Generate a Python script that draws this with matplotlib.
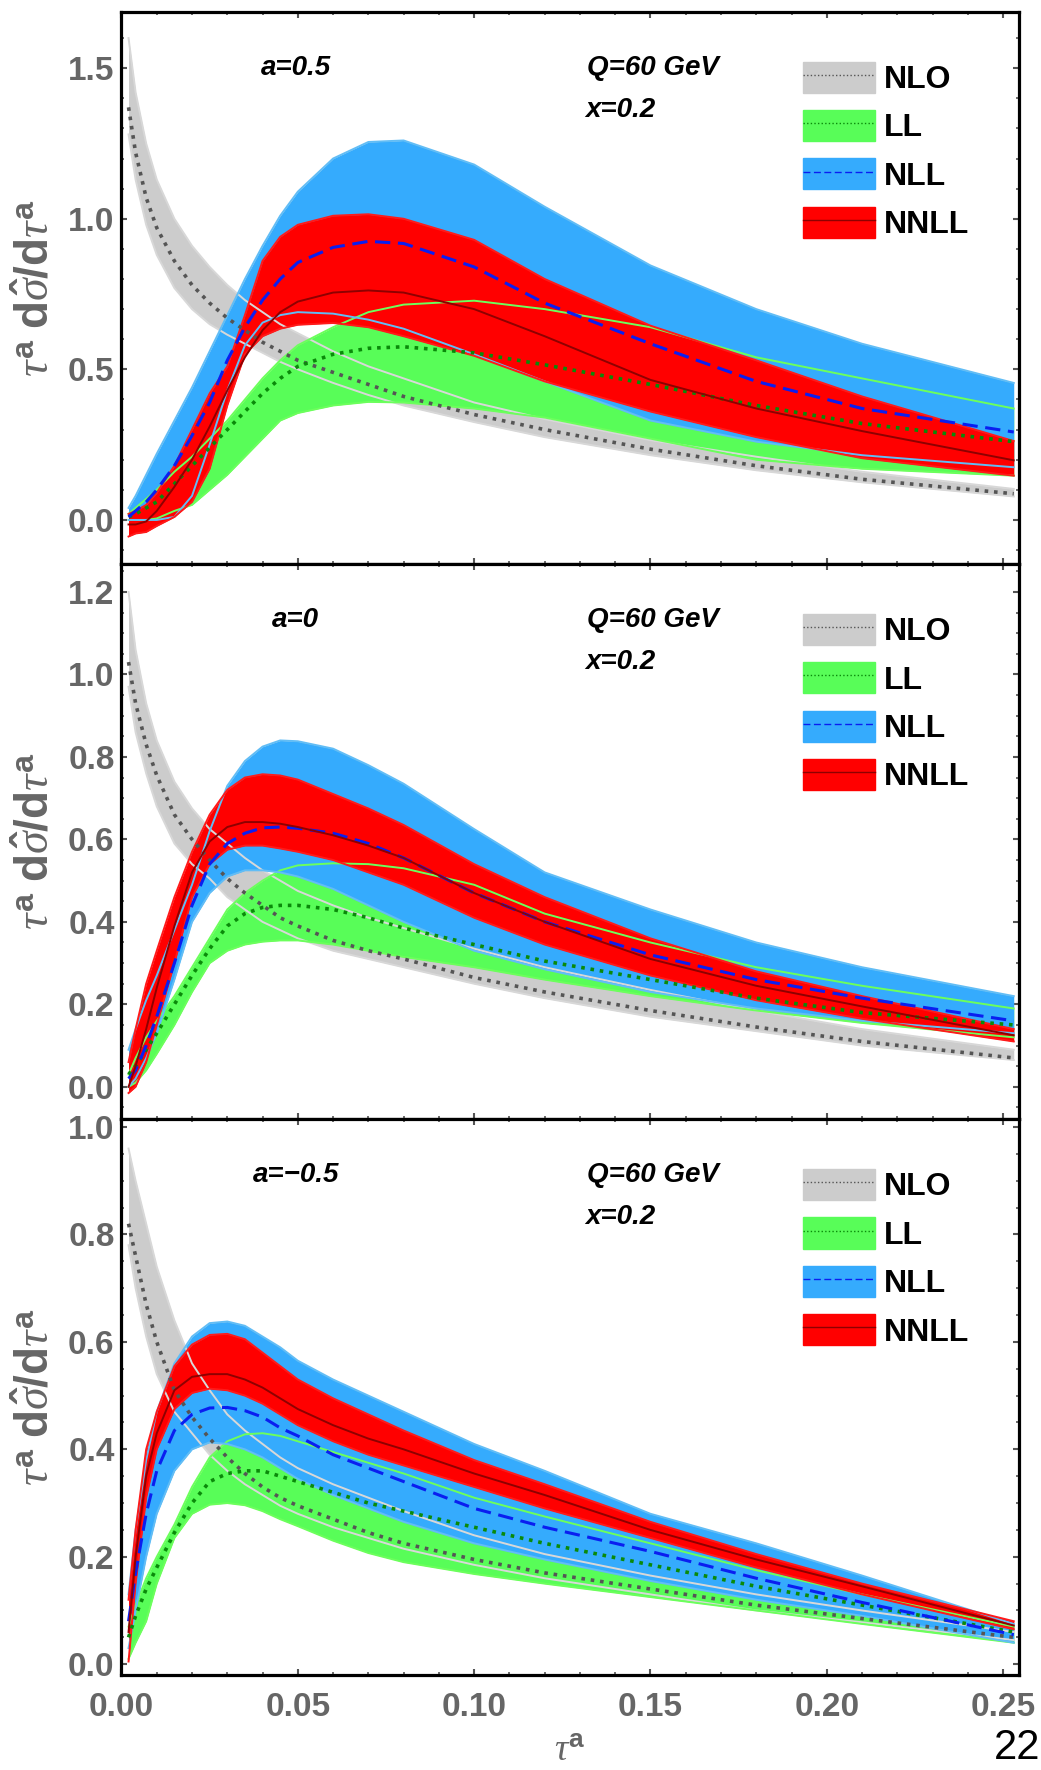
import matplotlib
matplotlib.use("Agg")
import matplotlib.pyplot as plt
from matplotlib.patches import Patch
from matplotlib.lines import Line2D
from matplotlib.ticker import MultipleLocator, FormatStrFormatter

plt.rcParams['font.family'] = ['Liberation Sans', 'DejaVu Sans']
plt.rcParams['mathtext.fontset'] = 'custom'
plt.rcParams['mathtext.rm'] = 'Liberation Sans:bold'
plt.rcParams['mathtext.bf'] = 'Liberation Sans:bold'
plt.rcParams['mathtext.it'] = 'Liberation Serif:italic'

# common tau^a grid
tau = [0.002, 0.004, 0.007, 0.01, 0.015, 0.02, 0.025, 0.03, 0.035, 0.04, 0.045,
       0.05, 0.06, 0.07, 0.08, 0.10, 0.12, 0.15, 0.18, 0.21, 0.253]

# ---- a = 0.5 ----
nlo_c_a05 = [1.37, 1.22, 1.07, 0.97, 0.86, 0.78, 0.72, 0.67, 0.63, 0.59, 0.56, 0.53, 0.49, 0.45, 0.41, 0.35, 0.30, 0.235, 0.18, 0.135, 0.087]
nlo_hi_a05 = [1.60, 1.42, 1.25, 1.13, 1.00, 0.91, 0.84, 0.78, 0.73, 0.69, 0.65, 0.62, 0.56, 0.51, 0.47, 0.39, 0.335, 0.265, 0.21, 0.16, 0.103]
nlo_lo_a05 = [1.28, 1.13, 0.98, 0.88, 0.77, 0.70, 0.65, 0.615, 0.585, 0.555, 0.525, 0.50, 0.455, 0.415, 0.38, 0.325, 0.275, 0.215, 0.165, 0.125, 0.078]
ll_c_a05 = [0.01, 0.02, 0.04, 0.06, 0.12, 0.18, 0.24, 0.30, 0.36, 0.42, 0.47, 0.51, 0.55, 0.57, 0.575, 0.555, 0.515, 0.45, 0.38, 0.32, 0.26]
ll_hi_a05 = [0.02, 0.04, 0.07, 0.10, 0.16, 0.21, 0.27, 0.33, 0.40, 0.47, 0.53, 0.58, 0.64, 0.69, 0.715, 0.728, 0.70, 0.64, 0.54, 0.47, 0.37]
ll_lo_a05 = [0.0, 0.0, 0.0, 0.005, 0.03, 0.05, 0.10, 0.15, 0.21, 0.27, 0.33, 0.355, 0.38, 0.392, 0.39, 0.37, 0.34, 0.27, 0.20, 0.17, 0.147]
nll_c_a05 = [0.01, 0.03, 0.06, 0.10, 0.18, 0.28, 0.39, 0.53, 0.64, 0.73, 0.80, 0.855, 0.905, 0.925, 0.918, 0.84, 0.72, 0.585, 0.46, 0.37, 0.292]
nll_hi_a05 = [0.04, 0.08, 0.15, 0.22, 0.33, 0.44, 0.56, 0.68, 0.80, 0.91, 1.01, 1.09, 1.20, 1.255, 1.26, 1.18, 1.04, 0.845, 0.70, 0.585, 0.455]
nll_lo_a05 = [0.0, 0.0, 0.0, 0.0, 0.01, 0.08, 0.25, 0.43, 0.58, 0.655, 0.68, 0.69, 0.685, 0.665, 0.635, 0.55, 0.46, 0.33, 0.26, 0.215, 0.175]
nnll_c_a05 = [-0.015, -0.015, -0.005, 0.03, 0.11, 0.20, 0.31, 0.43, 0.54, 0.63, 0.69, 0.725, 0.755, 0.762, 0.755, 0.70, 0.61, 0.465, 0.37, 0.295, 0.198]
nnll_hi_a05 = [0.02, 0.03, 0.05, 0.09, 0.18, 0.30, 0.42, 0.51, 0.68, 0.86, 0.94, 0.98, 1.01, 1.015, 1.00, 0.93, 0.80, 0.645, 0.53, 0.41, 0.262]
nnll_lo_a05 = [-0.055, -0.045, -0.04, -0.02, 0.01, 0.06, 0.17, 0.38, 0.55, 0.61, 0.635, 0.648, 0.654, 0.64, 0.61, 0.545, 0.46, 0.36, 0.275, 0.205, 0.147]

# ---- a = 0 ----
nlo_c_a0 = [1.03, 0.93, 0.83, 0.755, 0.66, 0.60, 0.55, 0.505, 0.47, 0.44, 0.41, 0.39, 0.355, 0.33, 0.31, 0.265, 0.23, 0.185, 0.145, 0.11, 0.07]
nlo_hi_a0 = [1.20, 1.06, 0.93, 0.84, 0.74, 0.675, 0.625, 0.59, 0.555, 0.525, 0.50, 0.475, 0.44, 0.41, 0.385, 0.335, 0.29, 0.235, 0.185, 0.14, 0.09]
nlo_lo_a0 = [0.97, 0.86, 0.76, 0.68, 0.59, 0.54, 0.505, 0.46, 0.43, 0.40, 0.38, 0.36, 0.33, 0.31, 0.29, 0.25, 0.215, 0.17, 0.135, 0.10, 0.065]
ll_c_a0 = [0.03, 0.05, 0.09, 0.13, 0.20, 0.27, 0.335, 0.39, 0.42, 0.435, 0.44, 0.44, 0.43, 0.41, 0.385, 0.345, 0.305, 0.26, 0.215, 0.18, 0.15]
ll_hi_a0 = [0.03, 0.07, 0.12, 0.16, 0.22, 0.29, 0.36, 0.43, 0.47, 0.50, 0.525, 0.537, 0.542, 0.54, 0.53, 0.49, 0.42, 0.35, 0.29, 0.245, 0.19]
ll_lo_a0 = [0.0, 0.01, 0.04, 0.08, 0.15, 0.23, 0.30, 0.33, 0.345, 0.352, 0.355, 0.355, 0.345, 0.33, 0.315, 0.29, 0.26, 0.22, 0.185, 0.155, 0.12]
nll_c_a0 = [0.02, 0.04, 0.10, 0.17, 0.30, 0.44, 0.54, 0.59, 0.615, 0.628, 0.63, 0.627, 0.615, 0.59, 0.555, 0.47, 0.40, 0.32, 0.26, 0.215, 0.16]
nll_hi_a0 = [0.09, 0.14, 0.21, 0.27, 0.38, 0.49, 0.62, 0.73, 0.79, 0.825, 0.84, 0.838, 0.82, 0.78, 0.735, 0.625, 0.52, 0.43, 0.35, 0.29, 0.22]
nll_lo_a0 = [0.0, 0.02, 0.07, 0.13, 0.26, 0.40, 0.47, 0.51, 0.525, 0.525, 0.52, 0.51, 0.48, 0.44, 0.40, 0.33, 0.285, 0.23, 0.19, 0.16, 0.13]
nnll_c_a0 = [0.0, 0.05, 0.14, 0.24, 0.39, 0.52, 0.595, 0.63, 0.642, 0.642, 0.638, 0.63, 0.61, 0.585, 0.555, 0.47, 0.40, 0.31, 0.245, 0.195, 0.125]
nnll_hi_a0 = [0.06, 0.14, 0.25, 0.33, 0.46, 0.57, 0.66, 0.72, 0.75, 0.758, 0.755, 0.745, 0.71, 0.675, 0.635, 0.54, 0.46, 0.36, 0.28, 0.22, 0.14]
nnll_lo_a0 = [-0.015, 0.0, 0.06, 0.15, 0.30, 0.46, 0.54, 0.575, 0.585, 0.585, 0.578, 0.57, 0.55, 0.52, 0.49, 0.41, 0.345, 0.27, 0.21, 0.165, 0.11]

# ---- a = -0.5 ----
nlo_c_am05 = [0.82, 0.76, 0.67, 0.60, 0.51, 0.46, 0.42, 0.385, 0.355, 0.33, 0.31, 0.295, 0.27, 0.245, 0.225, 0.195, 0.17, 0.14, 0.11, 0.085, 0.05]
nlo_hi_am05 = [0.96, 0.90, 0.82, 0.74, 0.64, 0.56, 0.51, 0.465, 0.435, 0.41, 0.385, 0.365, 0.335, 0.31, 0.285, 0.24, 0.205, 0.165, 0.13, 0.10, 0.06]
nlo_lo_am05 = [0.78, 0.70, 0.61, 0.54, 0.47, 0.43, 0.39, 0.36, 0.335, 0.315, 0.295, 0.28, 0.255, 0.235, 0.215, 0.185, 0.16, 0.13, 0.10, 0.078, 0.045]
ll_c_am05 = [0.05, 0.09, 0.14, 0.18, 0.245, 0.30, 0.34, 0.355, 0.36, 0.36, 0.35, 0.34, 0.32, 0.30, 0.285, 0.255, 0.225, 0.185, 0.145, 0.11, 0.06]
ll_hi_am05 = [0.07, 0.11, 0.16, 0.20, 0.26, 0.33, 0.385, 0.415, 0.428, 0.43, 0.425, 0.415, 0.395, 0.375, 0.355, 0.31, 0.275, 0.225, 0.175, 0.13, 0.07]
ll_lo_am05 = [0.01, 0.04, 0.08, 0.15, 0.235, 0.28, 0.297, 0.30, 0.296, 0.285, 0.27, 0.257, 0.23, 0.207, 0.19, 0.168, 0.15, 0.125, 0.10, 0.075, 0.04]
nll_c_am05 = [0.08, 0.17, 0.28, 0.36, 0.435, 0.465, 0.477, 0.478, 0.472, 0.46, 0.44, 0.425, 0.39, 0.365, 0.34, 0.29, 0.255, 0.21, 0.16, 0.115, 0.055]
nll_hi_am05 = [0.13, 0.25, 0.38, 0.47, 0.56, 0.61, 0.635, 0.638, 0.63, 0.61, 0.59, 0.565, 0.53, 0.50, 0.47, 0.41, 0.36, 0.28, 0.225, 0.165, 0.075]
nll_lo_am05 = [0.03, 0.10, 0.20, 0.28, 0.36, 0.40, 0.413, 0.41, 0.40, 0.385, 0.365, 0.345, 0.315, 0.29, 0.265, 0.225, 0.195, 0.155, 0.12, 0.09, 0.04]
nnll_c_am05 = [0.06, 0.20, 0.35, 0.43, 0.51, 0.535, 0.54, 0.54, 0.53, 0.515, 0.495, 0.475, 0.445, 0.42, 0.40, 0.355, 0.315, 0.25, 0.195, 0.145, 0.072]
nnll_hi_am05 = [0.12, 0.25, 0.40, 0.47, 0.555, 0.595, 0.613, 0.615, 0.605, 0.58, 0.555, 0.53, 0.495, 0.465, 0.435, 0.38, 0.335, 0.265, 0.205, 0.15, 0.08]
nnll_lo_am05 = [0.005, 0.15, 0.31, 0.40, 0.475, 0.505, 0.513, 0.51, 0.50, 0.485, 0.465, 0.445, 0.415, 0.39, 0.37, 0.33, 0.29, 0.235, 0.18, 0.13, 0.065]

a_labels = ["a=0.5", "a=0", "a=\u22120.5"]
order_names = ["NLO", "LL", "NLL", "NNLL"]
ylims = [(-0.146, 1.687), (-0.078, 1.268), (-0.02, 1.015)]
ymajor = [0.5, 0.2, 0.2]
yminor = [0.1, 0.05, 0.05]

fill_cols = ['#cccccc', '#58fd58', '#35abfd', '#ff0000']
edge_cols = ['#d8d8d8', '#6cff5c', '#62bdf5', '#ff1a1a']
line_cols = ['#555555', '#0a8a0a', '#0a1ef0', '#8e0000']
line_styles = [(0, (1.0, 1.6)), (0, (1.0, 1.6)), (0, (5, 2.5)), '-']
line_widths = [2.6, 2.6, 2.2, 1.4]

panels = [
    [(nlo_lo_a05, nlo_c_a05, nlo_hi_a05), (ll_lo_a05, ll_c_a05, ll_hi_a05),
     (nll_lo_a05, nll_c_a05, nll_hi_a05), (nnll_lo_a05, nnll_c_a05, nnll_hi_a05)],
    [(nlo_lo_a0, nlo_c_a0, nlo_hi_a0), (ll_lo_a0, ll_c_a0, ll_hi_a0),
     (nll_lo_a0, nll_c_a0, nll_hi_a0), (nnll_lo_a0, nnll_c_a0, nnll_hi_a0)],
    [(nlo_lo_am05, nlo_c_am05, nlo_hi_am05), (ll_lo_am05, ll_c_am05, ll_hi_am05),
     (nll_lo_am05, nll_c_am05, nll_hi_am05), (nnll_lo_am05, nnll_c_am05, nnll_hi_am05)],
]

fig = plt.figure(figsize=(10.41, 17.70), dpi=100)
left, width = 0.1167, 0.8622
boxes = [(0.6814, 0.3119), (0.3678, 0.3136), (0.0537, 0.3141)]

gray = '#666666'
for k, (bottom, height) in enumerate(boxes):
    ax = fig.add_axes([left, bottom, width, height])
    bands = panels[k]

    # filled bands, NLO at the back
    for i, (lo, c, hi) in enumerate(bands):
        ax.fill_between(tau, lo, hi, color=fill_cols[i], lw=0, zorder=1 + i)
    # band edges drawn over all fills
    for i, (lo, c, hi) in enumerate(bands):
        ax.plot(tau, lo, color=edge_cols[i], lw=1.4, zorder=6)
        ax.plot(tau, hi, color=edge_cols[i], lw=1.4, zorder=6)
    # central curves
    for i, (lo, c, hi) in enumerate(bands):
        ax.plot(tau, c, color=line_cols[i], ls=line_styles[i], lw=line_widths[i], zorder=7,
                dash_capstyle='butt')

    ax.set_xlim(0.0, 0.2545)
    ax.set_ylim(*ylims[k])
    ax.xaxis.set_major_locator(MultipleLocator(0.05))
    ax.xaxis.set_minor_locator(MultipleLocator(0.01))
    ax.yaxis.set_major_locator(MultipleLocator(ymajor[k]))
    ax.yaxis.set_minor_locator(MultipleLocator(yminor[k]))
    ax.xaxis.set_major_formatter(FormatStrFormatter('%.2f'))
    ax.yaxis.set_major_formatter(FormatStrFormatter('%.1f'))

    for sp in ax.spines.values():
        sp.set_linewidth(2.3)
        sp.set_color('black')
    ax.tick_params(which='both', direction='in', top=True, right=True, color='#555555')
    ax.tick_params(which='major', length=4.5, width=1.5, labelsize=24, labelcolor=gray, pad=5)
    ax.tick_params(which='minor', length=2.5, width=1.2)
    ax.tick_params(axis='x', which='major', pad=12)
    for lab in ax.get_xticklabels() + ax.get_yticklabels():
        lab.set_fontweight('bold')
    if k < 2:
        ax.tick_params(axis='x', labelbottom=False)

    ax.set_ylabel(r'$\tau^{\mathbf{a}}\ \mathbf{d}\hat{\sigma}\mathbf{/d}\tau^{\mathbf{a}}$',
                  fontsize=33, color=gray)
    ax.yaxis.set_label_coords(-0.07, 0.5)

    ax.text(0.194, 0.899, a_labels[k], transform=ax.transAxes, fontsize=20,
            fontweight='bold', fontstyle='italic', ha='center', va='center', zorder=10)
    ax.text(0.519, 0.899, "Q=60 GeV", transform=ax.transAxes, fontsize=20,
            fontweight='bold', fontstyle='italic', ha='left', va='center', zorder=10)
    ax.text(0.517, 0.823, "x=0.2", transform=ax.transAxes, fontsize=20,
            fontweight='bold', fontstyle='italic', ha='left', va='center', zorder=10)

    handles = []
    for i in range(4):
        handles.append((Patch(facecolor=fill_cols[i], edgecolor=fill_cols[i]),
                        Line2D([], [], color=line_cols[i], ls=line_styles[i], lw=1.0)))
    ax.legend(handles, order_names, loc='upper left', bbox_to_anchor=(0.759, 0.91),
              frameon=False, prop={'size': 23, 'weight': 'bold'}, handlelength=2.25,
              handleheight=1.12, labelspacing=0.47, handletextpad=0.3,
              borderpad=0, borderaxespad=0)

    if k == 2:
        ax.set_xlabel(r'$\tau^{\mathbf{a}}$', fontsize=27, color=gray)
        ax.xaxis.set_label_coords(0.5, -0.105)

fig.text(0.999, 0.001, "22", fontsize=30, ha='right', va='bottom', color='black')

fig.savefig("out.png", dpi=100)
